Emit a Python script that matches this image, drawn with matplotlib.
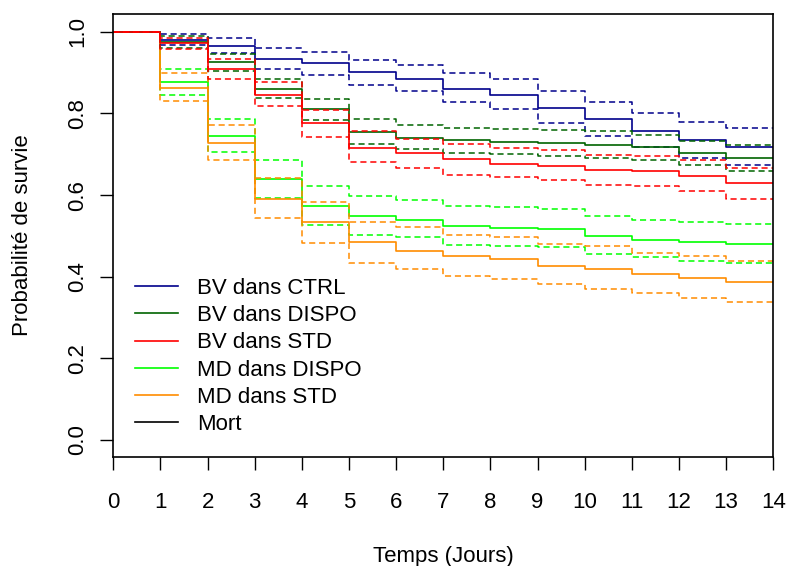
import matplotlib.pyplot as plt
from matplotlib.lines import Line2D
import numpy as np

plt.rcParams['font.family'] = ['Liberation Sans', 'DejaVu Sans']

days = np.arange(0, 15)

# survival estimates for intervals [0,1), [1,2) ... [13,14]
ctrl = [1.0, 0.981, 0.965, 0.933, 0.923, 0.901, 0.885, 0.860, 0.846, 0.814, 0.787, 0.758, 0.734, 0.717]
ctrl_hi = [1.0, 0.995, 0.985, 0.961, 0.951, 0.930, 0.920, 0.899, 0.885, 0.856, 0.829, 0.800, 0.780, 0.765]
ctrl_lo = [1.0, 0.969, 0.947, 0.908, 0.895, 0.871, 0.854, 0.829, 0.811, 0.777, 0.744, 0.717, 0.691, 0.674]

bv_dispo = [1.0, 0.975, 0.926, 0.859, 0.811, 0.754, 0.741, 0.735, 0.731, 0.727, 0.724, 0.717, 0.703, 0.691]
bv_dispo_hi = [1.0, 0.990, 0.945, 0.884, 0.835, 0.786, 0.772, 0.765, 0.762, 0.760, 0.756, 0.748, 0.733, 0.723]
bv_dispo_lo = [1.0, 0.961, 0.905, 0.838, 0.784, 0.726, 0.713, 0.703, 0.700, 0.695, 0.692, 0.686, 0.675, 0.660]

bv_std = [1.0, 0.972, 0.909, 0.846, 0.776, 0.716, 0.703, 0.689, 0.676, 0.671, 0.661, 0.658, 0.646, 0.629]
bv_std_hi = [1.0, 0.985, 0.934, 0.878, 0.809, 0.756, 0.738, 0.725, 0.716, 0.711, 0.699, 0.695, 0.686, 0.666]
bv_std_lo = [1.0, 0.958, 0.884, 0.818, 0.742, 0.682, 0.667, 0.650, 0.644, 0.636, 0.625, 0.622, 0.611, 0.591]

md_dispo = [1.0, 0.878, 0.744, 0.639, 0.573, 0.550, 0.538, 0.524, 0.520, 0.517, 0.501, 0.489, 0.484, 0.479]
md_dispo_hi = [1.0, 0.909, 0.787, 0.685, 0.622, 0.599, 0.587, 0.574, 0.570, 0.566, 0.550, 0.538, 0.533, 0.528]
md_dispo_lo = [1.0, 0.846, 0.706, 0.593, 0.527, 0.503, 0.497, 0.478, 0.475, 0.472, 0.456, 0.448, 0.439, 0.434]

md_std = [1.0, 0.862, 0.727, 0.591, 0.533, 0.484, 0.464, 0.450, 0.444, 0.426, 0.419, 0.407, 0.397, 0.388]
md_std_hi = [1.0, 0.899, 0.772, 0.643, 0.582, 0.535, 0.521, 0.503, 0.497, 0.479, 0.475, 0.458, 0.450, 0.439]
md_std_lo = [1.0, 0.830, 0.685, 0.545, 0.482, 0.434, 0.419, 0.401, 0.395, 0.381, 0.370, 0.360, 0.348, 0.339]

labels = ['BV dans CTRL', 'BV dans DISPO', 'BV dans STD', 'MD dans DISPO', 'MD dans STD', 'Mort']
colors = ['#00008B', '#006400', '#FF0000', '#00FF00', '#FF8C00', 'black']

# drawing order: later ones on top
curves = [
    (md_dispo, md_dispo_hi, md_dispo_lo, colors[3]),
    (md_std, md_std_hi, md_std_lo, colors[4]),
    (ctrl, ctrl_hi, ctrl_lo, colors[0]),
    (bv_dispo, bv_dispo_hi, bv_dispo_lo, colors[1]),
    (bv_std, bv_std_hi, bv_std_lo, colors[2]),
]

fig = plt.figure(figsize=(7.87, 5.66), dpi=100)
ax = fig.add_axes([0.144, 0.1931, 0.8386, 0.7816])

for s, hi, lo, c in curves:
    ext = lambda v: list(v) + [v[-1]]
    ax.step(days, ext(hi), where='post', color=c, lw=1.1, linestyle=(0, (4, 2.5)))
    ax.step(days, ext(lo), where='post', color=c, lw=1.1, linestyle=(0, (4, 2.5)))
    ax.step(days, ext(s), where='post', color=c, lw=1.2)

ax.set_xlim(0, 14)
ax.set_ylim(-0.041, 1.043)

ax.set_xticks(days)
ax.set_xticklabels([str(d) for d in days])
ax.set_yticks([0, 0.2, 0.4, 0.6, 0.8, 1.0])
ax.set_yticklabels(['0.0', '0.2', '0.4', '0.6', '0.8', '1.0'])
plt.setp(ax.get_yticklabels(), rotation=90, va='center')
ax.tick_params(axis='x', length=9.5, width=1, pad=16, labelsize=16)
ax.tick_params(axis='y', length=9.5, width=1, pad=8.5, labelsize=16)

for sp in ax.spines.values():
    sp.set_linewidth(1.2)

ax.set_xlabel('Temps (Jours)', fontsize=16, labelpad=24)
ax.set_ylabel('Probabilité de survie', fontsize=16, labelpad=25)

handles = [Line2D([], [], color=c, lw=1.2) for c in colors]
ax.legend(handles, labels, loc='upper left', bbox_to_anchor=(0.033, 0.404),
          frameon=False, fontsize=16, borderpad=0, borderaxespad=0,
          handlelength=1.95, handletextpad=0.85, labelspacing=0.28)

fig.savefig('out.png', dpi=100)
